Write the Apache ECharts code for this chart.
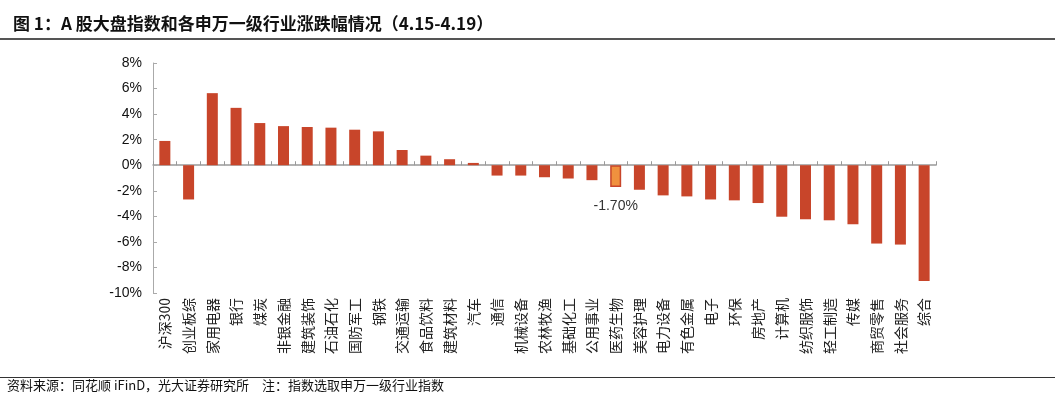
<!DOCTYPE html>
<html>
<head>
<meta charset="utf-8">
<script src="https://cdn.jsdelivr.net/npm/echarts@6/dist/echarts.min.js"></script>
<style>
html,body{margin:0;padding:0;background:#fff;}
#c{width:1055px;height:399px;}
</style>
</head>
<body>
<div id="c"></div>
<script>
var titleText = '图 1：A 股大盘指数和各申万一级行业涨跌幅情况（4.15-4.19）';
var sourceText = '资料来源：同花顺 iFinD，光大证券研究所　注：指数选取申万一级行业指数';
var categories = ['沪深300','创业板综','家用电器','银行','煤炭','非银金融','建筑装饰','石油石化','国防军工','钢铁','交通运输','食品饮料','建筑材料','汽车','通信','机械设备','农林牧渔','基础化工','公用事业','医药生物','美容护理','电力设备','有色金属','电子','环保','房地产','计算机','纺织服饰','轻工制造','传媒','商贸零售','社会服务','综合'];
var values = [1.90,-2.68,5.64,4.49,3.30,3.06,2.99,2.94,2.78,2.65,1.19,0.75,0.47,0.18,-0.81,-0.81,-0.94,-1.04,-1.17,-1.70,-1.92,-2.36,-2.44,-2.68,-2.75,-2.96,-4.03,-4.23,-4.31,-4.62,-6.13,-6.21,-9.06];
var highlightName = '医药生物';
var yMin = -10, yMax = 8, yStep = 2;

var barColor = '#C8452A';
var data = values.map(function(v, i){
  if (categories[i] === highlightName) {
    return {
      value: v,
      itemStyle: {color: '#F0913E', borderColor: '#C8452A', borderWidth: 1.5},
      label: {show: true, position: 'bottom', distance: 12, formatter: function(p){return p.value.toFixed(2) + '%';},
              color: '#333', fontSize: 14, fontFamily: 'Liberation Sans, Arial, sans-serif'}
    };
  }
  return v;
});

var chart = echarts.init(document.getElementById('c'), null, {renderer: 'canvas'});
chart.setOption({
  animation: false,
  backgroundColor: '#fff',
  title: {
    text: titleText, left: 8, top: 10,
    textStyle: {fontSize: 17, fontWeight: 'bold', color: '#111', fontFamily: 'Noto Sans CJK SC'}
  },
  graphic: [
    {type: 'rect', shape: {x: 0, y: 38, width: 1055, height: 2}, style: {fill: '#555'}},
    {type: 'rect', shape: {x: 0, y: 377, width: 1055, height: 1}, style: {fill: '#333'}},
    {type: 'text', left: 7, top: 379, style: {text: sourceText, fontSize: 13, fill: '#111', fontFamily: 'Noto Sans CJK SC'}}
  ],
  grid: {left: 153, right: 119, top: 63, bottom: 106, containLabel: false},
  xAxis: {
    type: 'category', data: categories,
    axisLine: {onZero: true, lineStyle: {color: '#999', width: 1.5}},
    axisTick: {show: true, inside: true, length: 4, alignWithLabel: false, lineStyle: {color: '#999'}},
    axisLabel: {
      rotate: 90, interval: 0, margin: 5, color: '#222', fontSize: 14, fontFamily: 'Noto Sans CJK SC',
      verticalAlign: 'middle'
    },
    position: 'bottom'
  },
  yAxis: {
    type: 'value', min: yMin, max: yMax, interval: yStep,
    axisLine: {show: true, lineStyle: {color: '#aaa'}},
    axisTick: {show: true, inside: true, length: 4, lineStyle: {color: '#aaa'}},
    splitLine: {show: false},
    axisLabel: {formatter: function(v){return v + '%';}, color: '#111', fontSize: 14, margin: 11, fontFamily: 'Liberation Sans, Arial, sans-serif'}
  },
  series: [{
    type: 'bar', data: data, barWidth: 11,
    itemStyle: {color: barColor}
  }]
});
</script>
</body>
</html>
